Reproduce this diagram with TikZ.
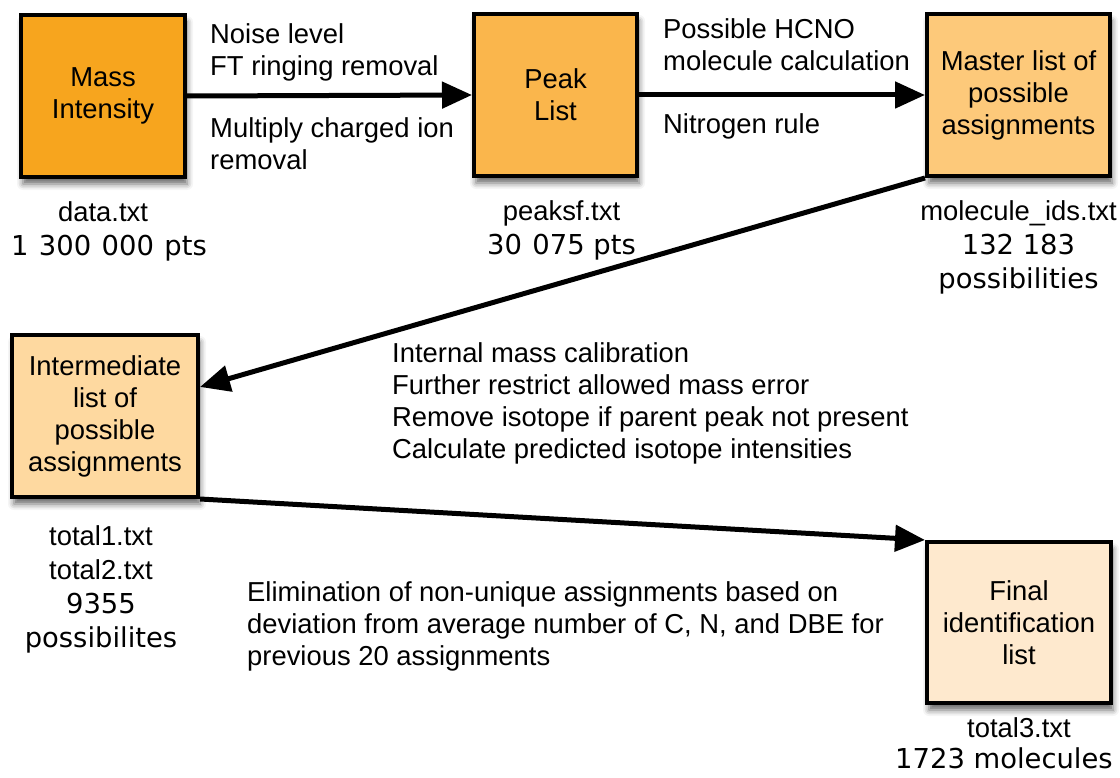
\documentclass[tikz,border=0pt]{standalone}
\usepackage{fontspec}
\setmainfont{Liberation Sans}
\newfontfamily\numfont{DejaVu Sans}
\usepackage{tikz}
\usetikzlibrary{positioning, arrows.meta}
\usetikzlibrary{shadows.blur}

\definecolor{massfill}{HTML}{F7A51E}
\definecolor{peakfill}{HTML}{FAB64C}
\definecolor{masterfill}{HTML}{FDC97A}
\definecolor{interfill}{HTML}{FED9A0}
\definecolor{finalfill}{HTML}{FEE9CE}

\tikzset{
	stagebox/.style={draw=black, line width=4pt, align=center, inner sep=0pt,
		minimum height=162pt, font=\fontsize{27.4}{32}\selectfont,
		blur shadow={shadow xshift=2pt, shadow yshift=-7pt, shadow blur radius=6pt, shadow opacity=60}},
	filelabel/.style={align=center, inner sep=0pt, font=\fontsize{27.4}{34}\selectfont},
	steptext/.style={align=left, anchor=north west, inner sep=0pt, font=\fontsize{27.4}{32}\selectfont},
	flow/.style={line width=5pt, -{Triangle[length=30pt,width=26pt]}}
}

\begin{document}
\begin{tikzpicture}[x=1pt, y=-1pt]
			\useasboundingbox (0,0) rectangle (1120,778);
			% processing stages
			\node[stagebox, fill=massfill, minimum width=164pt] (mass) at (103,96) {Mass\\Intensity};
			\node[stagebox, fill=peakfill, minimum width=163pt] (peak) at (555.5,95) {Peak\\List};
			\node[stagebox, fill=masterfill, minimum width=183pt] (master) at (1018.5,95) {Master list of\\possible\\assignments};
			\node[stagebox, fill=interfill, minimum width=186pt] (inter) at (105,416) {Intermediate\\list of\\possible\\assignments};
			\node[stagebox, fill=finalfill, minimum width=184pt, minimum height=161pt] (final) at (1019,622.5) {Final\\identification\\list};
			% file names and counts
			\node[filelabel, below=22pt of mass, xshift=6pt] (massfile) {data.txt\hspace*{12pt}\\{\numfont 1\hspace{0.38em}300\hspace{0.38em}000\hspace{0.38em}pts}};
			\node[filelabel, below=22pt of peak, xshift=6pt] (peakfile) {peaksf.txt\\{\numfont 30\hspace{0.38em}075 pts}};
			\node[filelabel, below=22pt of master] (masterfile) {molecule\_ids.txt\\{\numfont 132 183}\\{\numfont possibilities}};
			\node[filelabel, below=26pt of inter, xshift=-4pt] (interfile) {total1.txt\\total2.txt\\{\numfont 9355}\\{\numfont possibilites}};
			\node[filelabel, below=20pt of final, yshift=8pt, xshift=-15pt] (finalfile) {\hspace*{30pt}total3.txt\\[-3pt]{\numfont 1723 molecules}};
			% connectors
			\draw[flow] (mass.east) -- (peak.west);
			\draw[flow] (peak.east) -- (master.west);
			\draw[flow] (master.south west) -- (inter.17);
			\draw[flow] (inter.south east) -- (final.north west);
			% step descriptions
			\node[steptext] (noise) at (210,23) {Noise level\\FT ringing removal};
			\node[steptext] (charged) at (210,117) {Multiply charged ion\\removal};
			\node[steptext] (hcno) at (663,18) {Possible HCNO\\molecule calculation};
			\node[steptext] (nitrogen) at (663,113) {Nitrogen rule};
			\node[steptext] (calib) at (392,342) {Internal mass calibration\\Further restrict allowed mass error\\Remove isotope if parent peak not present\\Calculate predicted isotope intensities};
			\node[steptext] (unique) at (247,581) {Elimination of non-unique assignments based on\\deviation from average number of C, N, and DBE for\\previous 20 assignments};
		\end{tikzpicture}
\end{document}
